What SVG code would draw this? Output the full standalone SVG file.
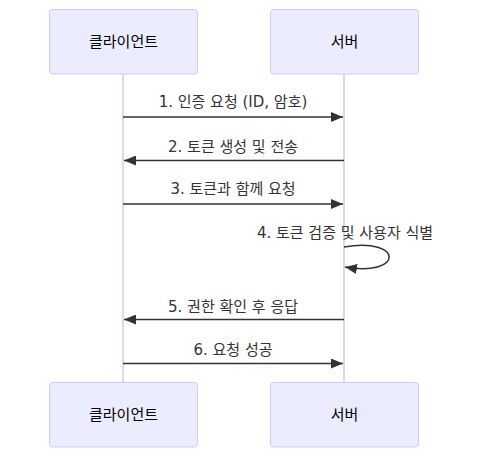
<svg xmlns="http://www.w3.org/2000/svg" width="497" height="465" viewBox="0 0 497 465">
<style>
.actor{fill:#ECECFF;stroke:#d3c9f5;stroke-width:1}
.atext{font-family:"DejaVu Sans","Noto Sans CJK KR",sans-serif;font-size:15px;fill:#000;text-anchor:middle;dominant-baseline:central}
.life{stroke:#d3c9f5;stroke-width:1.5;fill:none}
.msg{stroke:#333;stroke-width:1.5;fill:none}
.mtext{font-family:"DejaVu Sans","Noto Sans CJK KR",sans-serif;font-size:15px;fill:#333;text-anchor:middle;dominant-baseline:central}
</style>
<defs>
<marker id="arrow" viewBox="0 0 12 10" refX="12" refY="5" markerUnits="userSpaceOnUse" markerWidth="12" markerHeight="10" orient="auto">
<path d="M0,0 L12,5 L0,10 z" fill="#333"/>
</marker>
</defs>
<g id="lifelines">
<line class="life" x1="123" y1="74" x2="123" y2="382"/>
<line class="life" x1="344" y1="74" x2="344" y2="382"/>
</g>
<g id="client-top"><rect class="actor" x="49.5" y="9.5" width="148" height="64.5" rx="3"/><text class="atext" x="123.5" y="42">클라이언트</text></g>
<g id="server-top"><rect class="actor" x="270.5" y="9.5" width="148" height="64.5" rx="3"/><text class="atext" x="344.5" y="42">서버</text></g>
<g id="client-bottom"><rect class="actor" x="49.5" y="382.5" width="148" height="64.5" rx="3"/><text class="atext" x="123.5" y="415">클라이언트</text></g>
<g id="server-bottom"><rect class="actor" x="270.5" y="382.5" width="148" height="64.5" rx="3"/><text class="atext" x="344.5" y="415">서버</text></g>
<g id="connectors">
<line class="msg" x1="123" y1="117" x2="343" y2="117" marker-end="url(#arrow)"/>
<line class="msg" x1="344" y1="160.5" x2="124" y2="160.5" marker-end="url(#arrow)"/>
<line class="msg" x1="123" y1="204" x2="343" y2="204" marker-end="url(#arrow)"/>
<path class="msg" d="M344,247 C404,237 404,277 345,267" marker-end="url(#arrow)"/>
<line class="msg" x1="344" y1="319.5" x2="124" y2="319.5" marker-end="url(#arrow)"/>
<line class="msg" x1="123" y1="363.5" x2="343" y2="363.5" marker-end="url(#arrow)"/>
</g>
<g id="labels">
<text class="mtext" x="233" y="102">1. 인증 요청 (ID, 암호)</text>
<text class="mtext" x="233" y="146.5">2. 토큰 생성 및 전송</text>
<text class="mtext" x="233" y="189">3. 토큰과 함께 요청</text>
<text class="mtext" x="345" y="233">4. 토큰 검증 및 사용자 식별</text>
<text class="mtext" x="233" y="306.5">5. 권한 확인 후 응답</text>
<text class="mtext" x="233" y="350">6. 요청 성공</text>
</g>
</svg>
